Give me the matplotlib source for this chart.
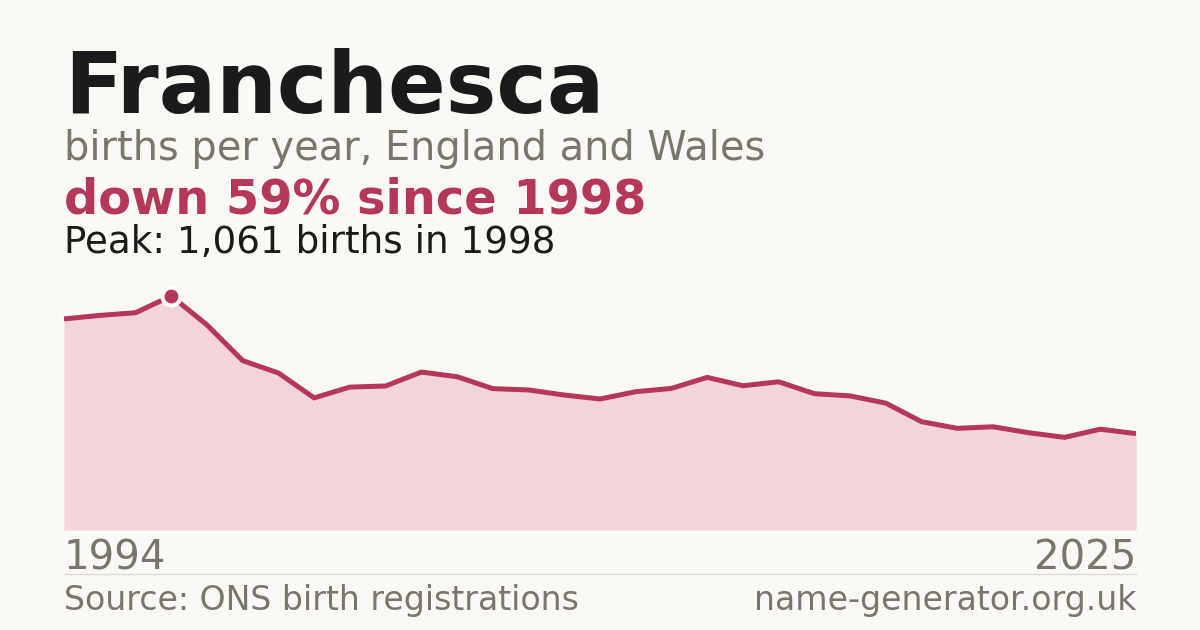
import numpy as np
import matplotlib.pyplot as plt

# data
years = list(range(1995, 2026))
births = [957, 973, 985, 1061, 930, 768, 712, 599, 648, 653,
          716, 695, 641, 635, 612, 594, 627, 642, 692, 654,
          672, 618, 608, 575, 491, 461, 468, 441, 420, 457, 437]
end_labels = ["1994", "2025"]

name = "Franchesca"
subtitle = "births per year, England and Wales"
change_text = "down 59% since 1998"
peak_text = "Peak: 1,061 births in 1998"
source_text = "Source: ONS birth registrations"
site_text = "name-generator.org.uk"

bg = "#faf9f4"
red = "#b5385a"
fill = "#f2d5da"
grey = "#7a756d"
dark = "#1b1b1b"

W, H = 1200, 630
fig = plt.figure(figsize=(12, 6.3), dpi=100, facecolor=bg)

def fy(px):
    return 1 - px / H

# chart area
left, right, bottom, top = 64, 1136, 530, 270
ax = fig.add_axes([left / W, fy(bottom), (right - left) / W, (bottom - top) / H])
ax.set_facecolor(bg)
x = np.array(years)
y = np.array(births)
ax.fill_between(x, 0, y, color=fill, lw=0)
ax.plot(x, y, color=red, lw=3.6, solid_joinstyle='round', solid_capstyle='butt')
i_peak = int(np.argmax(y))
ax.plot(x[i_peak], y[i_peak], 'o', ms=13, color=red, mec='white', mew=3, zorder=5)
ax.set_xlim(x[0], x[-1])
ax.set_ylim(0, y.max() / 0.9)
ax.axis('off')

# heading texts
fig.text(left / W, fy(113), name, fontsize=61.4, fontweight='bold', color=dark, va='baseline')
fig.text(left / W, fy(160), subtitle, fontsize=28.7, color=grey, va='baseline')
fig.text(left / W, fy(214), change_text, fontsize=34.5, fontweight='bold', color=red, va='baseline')
fig.text(left / W, fy(253), peak_text, fontsize=26.8, color=dark, va='baseline')

# year labels
fig.text(left / W, fy(570), end_labels[0], fontsize=29, color=grey, va='baseline')
fig.text(right / W, fy(570), end_labels[1], fontsize=29, color=grey, va='baseline', ha='right')

# separator and footer
fig.add_artist(plt.Line2D([left / W, right / W], [fy(574), fy(574)], color="#dedbd3", lw=1))
fig.text(left / W, fy(610), source_text, fontsize=23.9, color=grey, va='baseline')
fig.text(right / W, fy(610), site_text, fontsize=23.9, color=grey, va='baseline', ha='right')

fig.savefig("out.png", dpi=100, facecolor=bg)
